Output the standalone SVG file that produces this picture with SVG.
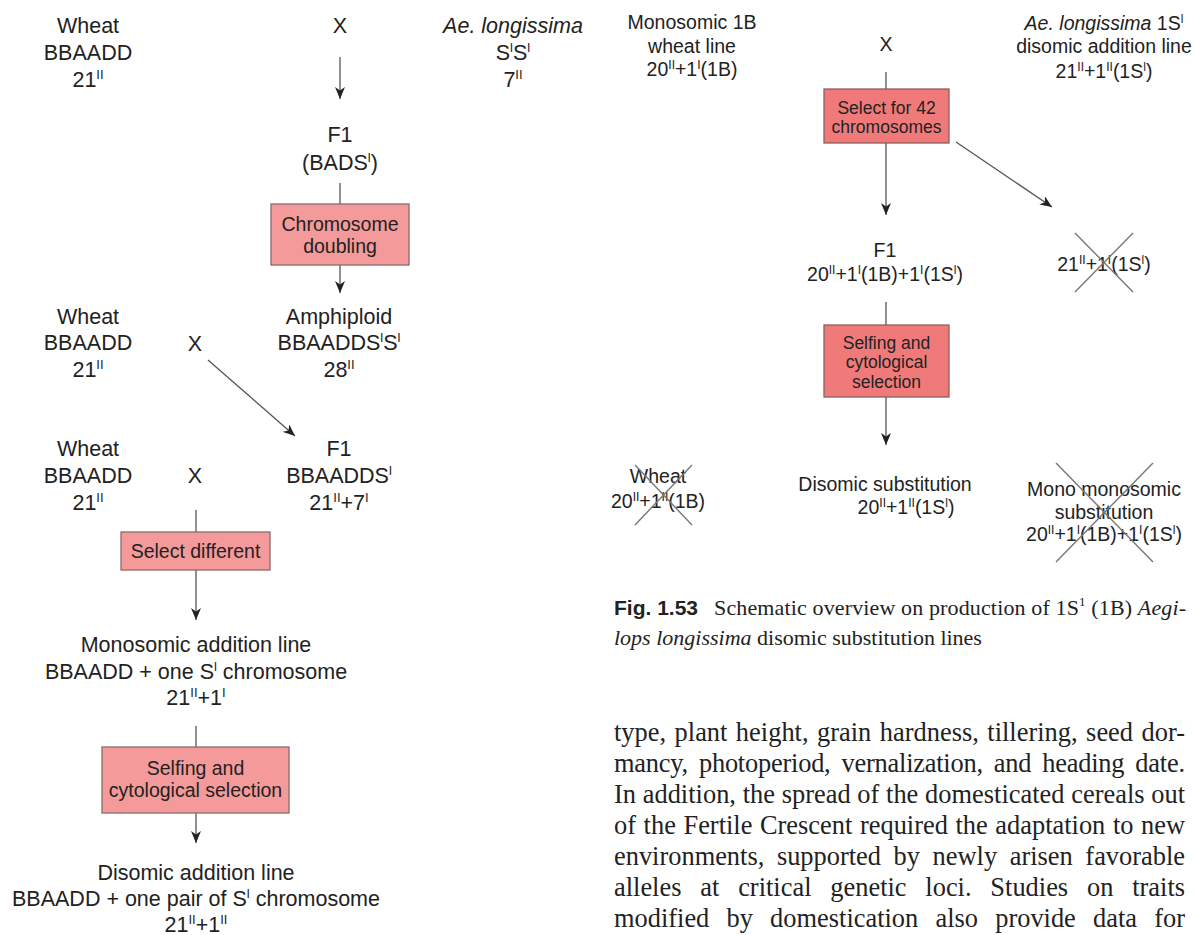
<svg xmlns="http://www.w3.org/2000/svg" width="1195" height="935" viewBox="0 0 1195 935">
<style>
  .t{font-family:"Liberation Sans",Arial,sans-serif;font-size:21.5px;fill:#222;text-anchor:middle}
  .r{font-family:"Liberation Sans",Arial,sans-serif;font-size:19.5px;fill:#222;text-anchor:middle}
  .bl{font-family:"Liberation Sans",Arial,sans-serif;font-size:19.5px;fill:#222;text-anchor:middle}
  .br{font-family:"Liberation Sans",Arial,sans-serif;font-size:17.5px;fill:#222;text-anchor:middle}
  .sp{font-size:13px}
  .sr{font-size:12px}
  .it{font-style:italic}
  .boxL{fill:#f49a9a;stroke:#8b6a6a;stroke-width:1.3}
  .boxR{fill:#f07a7a;stroke:#8b6060;stroke-width:1.3}
  .ln{stroke:#555;stroke-width:1.3;fill:none}
  .ar{stroke:#555;stroke-width:1.3;fill:none;marker-end:url(#ah)}
  .cross{stroke:#777;stroke-width:1.4;fill:none}
  .cap{font-family:"Liberation Serif","Times New Roman",serif;font-size:22px;fill:#222}
  .capb{font-family:"Liberation Sans",Arial,sans-serif;font-size:21px;font-weight:bold;fill:#222}
  .body{font-family:"Liberation Serif","Times New Roman",serif;font-size:26.4px;fill:#222}
</style>
<defs>
  <marker id="ah" viewBox="0 0 12 10" refX="12" refY="5" markerWidth="12" markerHeight="10" orient="auto" markerUnits="userSpaceOnUse">
    <path d="M0,0 L12,5 L0,10 L3.5,5 z" fill="#222"/>
  </marker>
</defs>
<rect width="1195" height="935" fill="#fff"/>

<g id="connectors">
  <line class="ar" x1="340" y1="57" x2="340" y2="99"/>
  <line class="ln" x1="340" y1="183" x2="340" y2="204"/>
  <line class="ar" x1="340" y1="265" x2="340" y2="293"/>
  <line class="ar" x1="208" y1="360" x2="295" y2="436"/>
  <line class="ln" x1="196" y1="510" x2="196" y2="532"/>
  <line class="ar" x1="196" y1="570" x2="196" y2="620"/>
  <line class="ln" x1="196" y1="726" x2="196" y2="747"/>
  <line class="ar" x1="196" y1="813" x2="196" y2="843"/>
  <line class="ln" x1="886" y1="72" x2="886" y2="89"/>
  <line class="ar" x1="886" y1="143" x2="886" y2="215"/>
  <line class="ar" x1="956" y1="142" x2="1052" y2="207"/>
  <line class="ln" x1="886" y1="302" x2="886" y2="325"/>
  <line class="ar" x1="886" y1="397" x2="886" y2="445"/>
</g>

<!-- Left diagram -->
<g id="n-wheat1">
  <text class="t" x="88" y="33">Wheat</text>
  <text class="t" x="88" y="60">BBAADD</text>
  <text class="t" x="88" y="87">21<tspan class="sp" dy="-8">II</tspan></text>
</g>
<g id="n-x1"><text class="t" x="340" y="33">X</text></g>
<g id="n-aelong">
  <text class="t it" x="513" y="33">Ae. longissima</text>
  <text class="t" x="513" y="60">S<tspan class="sp" dy="-8">l</tspan><tspan dy="8">S</tspan><tspan class="sp" dy="-8">l</tspan></text>
  <text class="t" x="513" y="87">7<tspan class="sp" dy="-8">II</tspan></text>
</g>
<g id="n-f1a">
  <text class="t" x="340" y="142">F1</text>
  <text class="t" x="340" y="170">(BADS<tspan class="sp" dy="-8">l</tspan><tspan dy="8">)</tspan></text>
</g>
<g id="n-doubling">
  <rect class="boxL" x="271" y="204" width="138" height="61"/>
  <text class="bl" x="340" y="231">Chromosome</text>
  <text class="bl" x="340" y="253">doubling</text>
</g>
<g id="n-amphiploid">
  <text class="t" x="339" y="324">Amphiploid</text>
  <text class="t" x="339" y="350">BBAADDS<tspan class="sp" dy="-8">l</tspan><tspan dy="8">S</tspan><tspan class="sp" dy="-8">l</tspan></text>
  <text class="t" x="339" y="377">28<tspan class="sp" dy="-8">II</tspan></text>
</g>
<g id="n-wheat2">
  <text class="t" x="88" y="324">Wheat</text>
  <text class="t" x="88" y="350">BBAADD</text>
  <text class="t" x="88" y="377">21<tspan class="sp" dy="-8">II</tspan></text>
</g>
<g id="n-x2"><text class="t" x="195" y="351">X</text></g>
<g id="n-f1b">
  <text class="t" x="339" y="456">F1</text>
  <text class="t" x="339" y="483">BBAADDS<tspan class="sp" dy="-8">l</tspan></text>
  <text class="t" x="339" y="510">21<tspan class="sp" dy="-8">II</tspan><tspan dy="8">+7</tspan><tspan class="sp" dy="-8">I</tspan></text>
</g>
<g id="n-wheat3">
  <text class="t" x="88" y="456">Wheat</text>
  <text class="t" x="88" y="483">BBAADD</text>
  <text class="t" x="88" y="510">21<tspan class="sp" dy="-8">II</tspan></text>
</g>
<g id="n-x3"><text class="t" x="195" y="483">X</text></g>
<g id="n-selectdiff">
  <rect class="boxL" x="121" y="532" width="149" height="38"/>
  <text class="bl" x="195.5" y="558">Select different</text>
</g>
<g id="n-monoadd">
  <text class="t" x="196" y="652">Monosomic addition line</text>
  <text class="t" x="196" y="679">BBAADD + one S<tspan class="sp" dy="-8">l</tspan><tspan dy="8"> chromosome</tspan></text>
  <text class="t" x="196" y="705">21<tspan class="sp" dy="-8">II</tspan><tspan dy="8">+1</tspan><tspan class="sp" dy="-8">I</tspan></text>
</g>
<g id="n-selfing1">
  <rect class="boxL" x="102" y="747" width="187" height="66"/>
  <text class="bl" x="195.5" y="775">Selfing and</text>
  <text class="bl" x="195.5" y="797">cytological selection</text>
</g>
<g id="n-diadd">
  <text class="t" x="196" y="880">Disomic addition line</text>
  <text class="t" x="196" y="906">BBAADD + one pair of S<tspan class="sp" dy="-8">l</tspan><tspan dy="8"> chromosome</tspan></text>
  <text class="t" x="196" y="932">21<tspan class="sp" dy="-8">II</tspan><tspan dy="8">+1</tspan><tspan class="sp" dy="-8">II</tspan></text>
</g>

<!-- Right diagram -->
<g id="r-mono1b">
  <text class="r" x="692" y="29">Monosomic 1B</text>
  <text class="r" x="692" y="53">wheat line</text>
  <text class="r" x="692" y="76">20<tspan class="sr" dy="-7.5">II</tspan><tspan dy="7.5">+1</tspan><tspan class="sr" dy="-7.5">I</tspan><tspan dy="7.5">(1B)</tspan></text>
</g>
<g id="r-x"><text class="r" x="886" y="51">X</text></g>
<g id="r-aelong1s">
  <text class="r" x="1104" y="30"><tspan class="it">Ae. longissima</tspan> 1S<tspan class="sr" dy="-7.5">l</tspan></text>
  <text class="r" x="1104" y="53">disomic addition line</text>
  <text class="r" x="1104" y="78">21<tspan class="sr" dy="-7.5">II</tspan><tspan dy="7.5">+1</tspan><tspan class="sr" dy="-7.5">II</tspan><tspan dy="7.5">(1S</tspan><tspan class="sr" dy="-7.5">l</tspan><tspan dy="7.5">)</tspan></text>
</g>
<g id="r-select42">
  <rect class="boxR" x="824" y="89" width="125" height="54"/>
  <text class="br" x="886.5" y="114">Select for 42</text>
  <text class="br" x="886.5" y="133">chromosomes</text>
</g>
<g id="r-f1">
  <text class="r" x="885" y="257">F1</text>
  <text class="r" x="885" y="281">20<tspan class="sr" dy="-7.5">II</tspan><tspan dy="7.5">+1</tspan><tspan class="sr" dy="-7.5">I</tspan><tspan dy="7.5">(1B)+1</tspan><tspan class="sr" dy="-7.5">I</tspan><tspan dy="7.5">(1S</tspan><tspan class="sr" dy="-7.5">l</tspan><tspan dy="7.5">)</tspan></text>
</g>
<g id="r-rejected">
  <text class="r" x="1104" y="271">21<tspan class="sr" dy="-7.5">II</tspan><tspan dy="7.5">+1</tspan><tspan class="sr" dy="-7.5">I</tspan><tspan dy="7.5">(1S</tspan><tspan class="sr" dy="-7.5">l</tspan><tspan dy="7.5">)</tspan></text>
  <line class="cross" x1="1075" y1="233" x2="1133" y2="292"/>
  <line class="cross" x1="1133" y1="233" x2="1075" y2="292"/>
</g>
<g id="r-selfing">
  <rect class="boxR" x="824" y="325" width="125" height="72"/>
  <text class="br" x="886.5" y="349">Selfing and</text>
  <text class="br" x="886.5" y="368">cytological</text>
  <text class="br" x="886.5" y="388">selection</text>
</g>
<g id="r-wheat">
  <text class="r" x="658" y="483">Wheat</text>
  <text class="r" x="658" y="508">20<tspan class="sr" dy="-7.5">II</tspan><tspan dy="7.5">+1</tspan><tspan class="sr" dy="-7.5">II</tspan><tspan dy="7.5">(1B)</tspan></text>
  <line class="cross" x1="635" y1="465" x2="692" y2="525"/>
  <line class="cross" x1="692" y1="465" x2="635" y2="525"/>
</g>
<g id="r-disub">
  <text class="r" x="885" y="491">Disomic substitution</text>
  <text class="r" x="906" y="514">20<tspan class="sr" dy="-7.5">II</tspan><tspan dy="7.5">+1</tspan><tspan class="sr" dy="-7.5">II</tspan><tspan dy="7.5">(1S</tspan><tspan class="sr" dy="-7.5">l</tspan><tspan dy="7.5">)</tspan></text>
</g>
<g id="r-monomono">
  <text class="r" x="1104" y="496">Mono monosomic</text>
  <text class="r" x="1104" y="519">substitution</text>
  <text class="r" x="1104" y="541">20<tspan class="sr" dy="-7.5">II</tspan><tspan dy="7.5">+1</tspan><tspan class="sr" dy="-7.5">I</tspan><tspan dy="7.5">(1B)+1</tspan><tspan class="sr" dy="-7.5">I</tspan><tspan dy="7.5">(1S</tspan><tspan class="sr" dy="-7.5">l</tspan><tspan dy="7.5">)</tspan></text>
  <line class="cross" x1="1056" y1="463" x2="1153" y2="562"/>
  <line class="cross" x1="1153" y1="463" x2="1056" y2="562"/>
</g>

<!-- Caption -->
<g id="caption">
  <text class="capb" x="614" y="615">Fig. 1.53</text>
  <text class="cap" x="714" y="615" textLength="472" lengthAdjust="spacing">Schematic overview on production of 1S<tspan font-size="13" dy="-9">1</tspan><tspan dy="9"> (1B) </tspan><tspan class="it">Aegi-</tspan></text>
  <text class="cap" x="614" y="645"><tspan class="it">lops longissima</tspan> disomic substitution lines</text>
</g>

<!-- Body text -->
<g id="body">
  <text class="body" x="614" y="741" word-spacing="1.8" textLength="571" lengthAdjust="spacing">type, plant height, grain hardness, tillering, seed dor-</text>
  <text class="body" x="614" y="772" word-spacing="4.6" textLength="571" lengthAdjust="spacing">mancy, photoperiod, vernalization, and heading date.</text>
  <text class="body" x="614" y="803" word-spacing="0.1" textLength="571" lengthAdjust="spacing">In addition, the spread of the domesticated cereals out</text>
  <text class="body" x="614" y="834" word-spacing="1" textLength="571" lengthAdjust="spacing">of the Fertile Crescent required the adaptation to new</text>
  <text class="body" x="614" y="865" word-spacing="6" textLength="571" lengthAdjust="spacing">environments, supported by newly arisen favorable</text>
  <text class="body" x="614" y="896" word-spacing="12.2" textLength="571" lengthAdjust="spacing">alleles at critical genetic loci. Studies on traits</text>
  <text class="body" x="614" y="927" word-spacing="10.6" textLength="571" lengthAdjust="spacing">modified by domestication also provide data for</text>
</g>
</svg>
